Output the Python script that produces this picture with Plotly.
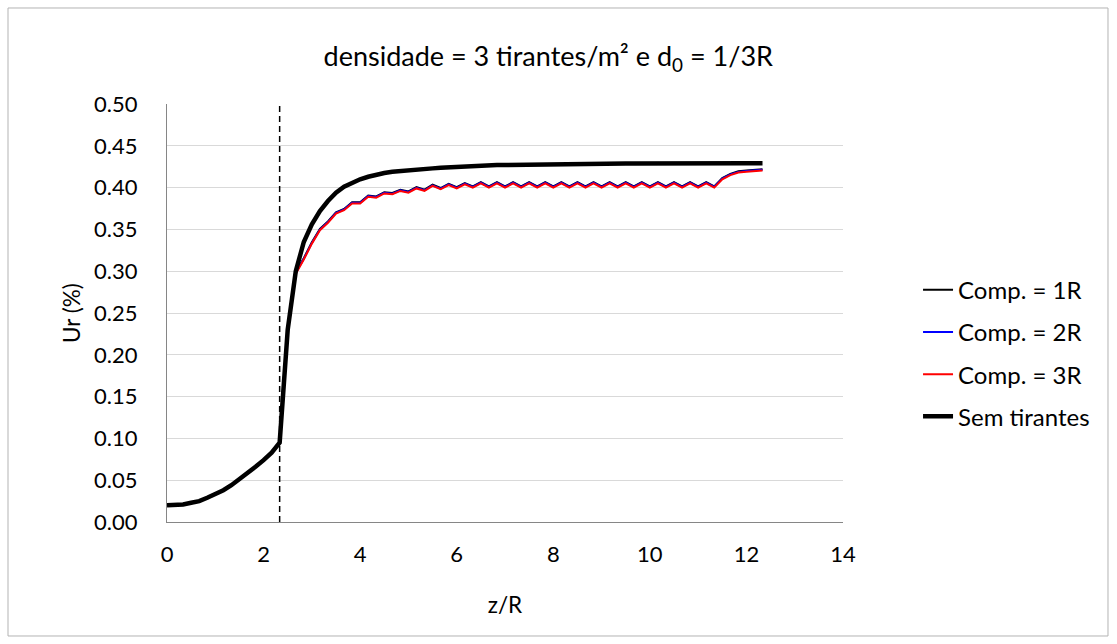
import plotly.graph_objects as go

z = [0, 0.167, 0.333, 0.5, 0.667, 0.833, 1.0, 1.167, 1.333, 1.5, 1.667, 1.833, 2.0, 2.167, 2.333,
     2.5, 2.667, 2.833, 3.0, 3.167, 3.333, 3.5, 3.667, 3.833, 4.0,
     4.167, 4.333, 4.5, 4.667, 4.833, 5.0,
     5.167, 5.333, 5.5, 5.667, 5.833, 6.0,
     6.167, 6.333, 6.5, 6.667, 6.833, 7.0,
     7.167, 7.333, 7.5, 7.667, 7.833, 8.0,
     8.167, 8.333, 8.5, 8.667, 8.833, 9.0,
     9.167, 9.333, 9.5, 9.667, 9.833, 10.0,
     10.167, 10.333, 10.5, 10.667, 10.833, 11.0, 11.167, 11.333,
     11.5, 11.667, 11.833, 12.0, 12.167, 12.333]

sem_tirantes = [0.020, 0.020, 0.021, 0.023, 0.025, 0.029, 0.033, 0.038, 0.044, 0.051, 0.058, 0.066, 0.074, 0.083, 0.095,
                0.230, 0.300, 0.335, 0.356, 0.372, 0.384, 0.394, 0.401, 0.406, 0.410,
                0.413, 0.4155, 0.4175, 0.419, 0.420, 0.421,
                0.422, 0.4225, 0.423, 0.4237, 0.4243, 0.425,
                0.4255, 0.426, 0.4263, 0.4266, 0.4269, 0.427,
                0.4272, 0.4274, 0.4276, 0.4278, 0.428, 0.428,
                0.4282, 0.4283, 0.4284, 0.4285, 0.4286, 0.4287,
                0.4288, 0.4288, 0.4289, 0.4289, 0.429, 0.429,
                0.429, 0.429, 0.429, 0.429, 0.429, 0.429, 0.429, 0.429,
                0.429, 0.429, 0.429, 0.429, 0.429, 0.429]

comp_3R = [0.020, 0.020, 0.021, 0.023, 0.025, 0.029, 0.033, 0.038, 0.044, 0.051, 0.058, 0.066, 0.074, 0.083, 0.095,
           0.228, 0.297, 0.314, 0.333, 0.349, 0.358, 0.369, 0.373, 0.381, 0.381,
           0.389, 0.388, 0.393, 0.392, 0.396, 0.394,
           0.399, 0.396, 0.402, 0.398, 0.403, 0.399,
           0.404, 0.400, 0.405, 0.400, 0.405, 0.400,
           0.405, 0.400, 0.405, 0.400, 0.405, 0.400,
           0.405, 0.400, 0.405, 0.400, 0.405, 0.400,
           0.405, 0.400, 0.405, 0.400, 0.405, 0.400,
           0.405, 0.400, 0.405, 0.400, 0.405, 0.400, 0.405, 0.400,
           0.410, 0.415, 0.418, 0.419, 0.420, 0.4205]

comp_2R = [0.020, 0.020, 0.021, 0.023, 0.025, 0.029, 0.033, 0.038, 0.044, 0.051, 0.058, 0.066, 0.074, 0.083, 0.095,
           0.2288, 0.2978, 0.3148, 0.3338, 0.3498, 0.3588, 0.3698, 0.3738, 0.3818, 0.3818,
           0.3898, 0.3888, 0.3938, 0.3928, 0.3968, 0.3948,
           0.3998, 0.3968, 0.4028, 0.3988, 0.4038, 0.3998,
           0.4048, 0.4008, 0.4058, 0.4008, 0.4058, 0.4008,
           0.4058, 0.4008, 0.4058, 0.4008, 0.4058, 0.4008,
           0.4058, 0.4008, 0.4058, 0.4008, 0.4058, 0.4008,
           0.4058, 0.4008, 0.4058, 0.4008, 0.4058, 0.4008,
           0.4058, 0.4008, 0.4058, 0.4008, 0.4058, 0.4008, 0.4058, 0.4008,
           0.4108, 0.4158, 0.4188, 0.4198, 0.4208, 0.4213]

comp_1R = [0.020, 0.020, 0.021, 0.023, 0.025, 0.029, 0.033, 0.038, 0.044, 0.051, 0.058, 0.066, 0.074, 0.083, 0.095,
           0.2295, 0.2985, 0.3155, 0.3345, 0.3505, 0.3595, 0.3705, 0.3745, 0.3825, 0.3825,
           0.3905, 0.3895, 0.3945, 0.3935, 0.3975, 0.3955,
           0.4005, 0.3975, 0.4035, 0.3995, 0.4045, 0.4005,
           0.4055, 0.4015, 0.4065, 0.4015, 0.4065, 0.4015,
           0.4065, 0.4015, 0.4065, 0.4015, 0.4065, 0.4015,
           0.4065, 0.4015, 0.4065, 0.4015, 0.4065, 0.4015,
           0.4065, 0.4015, 0.4065, 0.4015, 0.4065, 0.4015,
           0.4065, 0.4015, 0.4065, 0.4015, 0.4065, 0.4015, 0.4065, 0.4015,
           0.4115, 0.4165, 0.4195, 0.4205, 0.4215, 0.422]

dashed_x = 2.333
x_ticks = [0, 2, 4, 6, 8, 10, 12, 14]
y_ticks = [0.00, 0.05, 0.10, 0.15, 0.20, 0.25, 0.30, 0.35, 0.40, 0.45, 0.50]

series = [
    ("Comp. = 1R", comp_1R, "#000000", 2),
    ("Comp. = 2R", comp_2R, "#0000ff", 2),
    ("Comp. = 3R", comp_3R, "#ff0000", 2),
    ("Sem tirantes", sem_tirantes, "#000000", 4.5),
]

FONT = "Lato"
fig = go.Figure()
for i, (name, vals, color, w) in enumerate(series):
    fig.add_trace(go.Scatter(x=z, y=vals, mode="lines", name=name,
                             legendgroup=f"g{i}",
                             line=dict(color=color, width=w)))

fig.add_shape(type="line", xref="x", yref="y", x0=dashed_x, x1=dashed_x, y0=0, y1=0.5,
              line=dict(color="black", width=1.5, dash="6px,4px"), layer="above")

# outer chart border
fig.add_shape(type="rect", xref="paper", yref="paper",
              x0=-0.2352, x1=1.392, y0=-0.2727, y1=1.2297,
              line=dict(color="#b3b3b3", width=1), layer="below")

fig.update_layout(
    width=1117, height=644,
    margin=dict(l=167, r=274, t=104, b=122),
    paper_bgcolor="white", plot_bgcolor="white",
    font=dict(family=FONT, size=22, color="black"),
    title=dict(text="densidade = 3 tirantes/m² e d<sub>0</sub> = 1/3R",
               x=0.564, xref="paper", xanchor="center",
               y=1 - 57 / 644, yref="container", yanchor="middle",
               font=dict(family=FONT, size=27, color="black")),
    showlegend=True,
    legend=dict(x=1.111, xanchor="left", y=0.404, yanchor="middle",
                tracegroupgap=8, font=dict(family=FONT, size=24, color="black"),
                bgcolor="rgba(0,0,0,0)"),
    xaxis=dict(range=[0, 14], tickvals=x_ticks, ticktext=[str(v) for v in x_ticks],
               showgrid=False, zeroline=False, showline=True, linecolor="#868686",
               linewidth=1, ticks="", ticklabelstandoff=13,
               tickfont=dict(family=FONT, size=22),
               title=dict(text="z/R", standoff=30, font=dict(family=FONT, size=22.5))),
    yaxis=dict(range=[0, 0.5], tickvals=y_ticks, ticktext=[f"{v:.2f}" for v in y_ticks],
               showgrid=True, gridcolor="#d9d9d9", gridwidth=1, zeroline=False,
               showline=True, linecolor="#868686", linewidth=1, ticks="",
               ticklabelstandoff=24,
               tickfont=dict(family=FONT, size=22),
               title=dict(text="Ur (%)", standoff=7, font=dict(family=FONT, size=22.5))),
)

fig.write_html("out.html")
